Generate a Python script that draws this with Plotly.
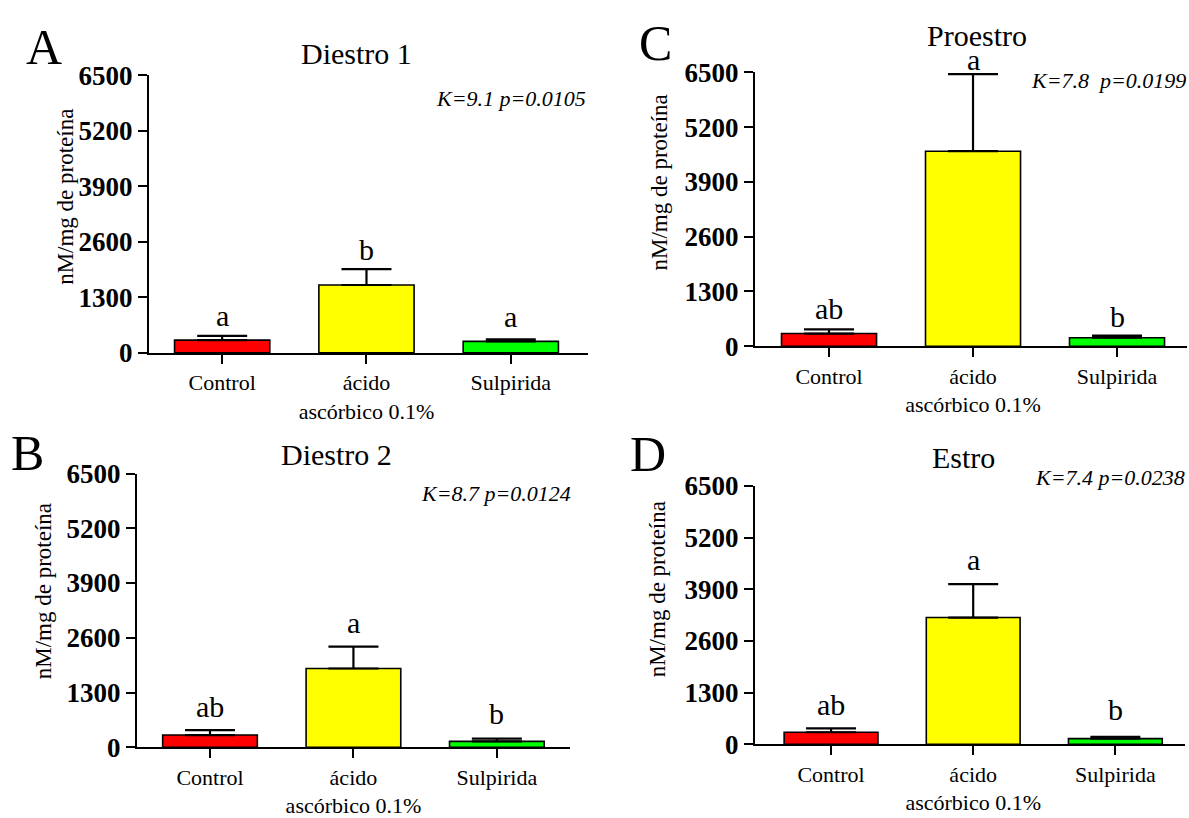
import plotly.graph_objects as go

W, H = 1189, 818
FONT = "Liberation Serif"

categories = ["Control", "ácido<br>ascórbico 0.1%", "Sulpirida"]
bar_colors = ["#FF0000", "#FFFF00", "#00FF00"]
y_ticks = [0, 1300, 2600, 3900, 5200, 6500]

panel_letters = ["A", "B", "C", "D"]
titles = ["Diestro 1", "Diestro 2", "Proestro", "Estro"]
stats_text = ["K=9.1 p=0.0105", "K=8.7 p=0.0124", "K=7.8  p=0.0199", "K=7.4 p=0.0238"]

means_A = [300, 1590, 270]
err_A = [100, 370, 50]
means_B = [290, 1870, 140]
err_B = [115, 520, 65]
means_C = [300, 4630, 200]
err_C = [100, 1830, 50]
means_D = [305, 3190, 145]
err_D = [100, 840, 45]

sig_A = ["a", "b", "a"]
sig_B = ["ab", "a", "b"]
sig_C = ["ab", "a", "b"]
sig_D = ["ab", "a", "b"]

means = [means_A, means_B, means_C, means_D]
errs = [err_A, err_B, err_C, err_D]
sigs = [sig_A, sig_B, sig_C, sig_D]

# layout geometry in pixels: (axis_x, right, top, bottom)
geom = [
    (149, 588, 63, 353),
    (137, 570, 479, 765),
    (755, 1187, 60, 346),
    (755, 1185, 492, 762),
]
xranges = [[-0.507, 2.535], [-0.509, 2.51], [-0.514, 2.486], [-0.535, 2.49]]
letter_pos = [(44, 33), (27, 458), (655, 29), (648, 459)]
title_pos = [(356, 40), (336, 459), (977, 21), (964, 462)]
stats_pos = [(588, 87), (573, 500), (1188, 68), (1187, 483)]
ytitle_pos = [(66, 190), (43, 602), (660, 175), (657, 600)]
# pixel lift of each significance letter above its error-bar cap
sig_shift = [[2, 1, 4], [5, 6, 7], [2, -4, 1], [5, 6, 9]]


def px(x):
    return x / W


def py(y):
    return 1 - y / H


fig = go.Figure()
annotations = []
xs = [0, 1, 2]

for i in range(4):
    ax = "" if i == 0 else str(i + 1)
    fig.add_trace(go.Bar(
        x=xs, y=means[i],
        width=0.66,
        marker=dict(color=bar_colors, line=dict(color="black", width=1.6)),
        error_y=dict(type="data", array=errs[i], arrayminus=[0, 0, 0],
                     symmetric=False, color="black", thickness=2.2, width=25),
        xaxis="x" + ax, yaxis="y" + ax, showlegend=False, hoverinfo="skip",
    ))
    ax0, ax1, top, bot = geom[i]
    xa = dict(
        domain=[px(ax0), px(ax1)], range=xranges[i], anchor="y" + ax,
        tickvals=xs, ticktext=categories, showline=True, linecolor="black",
        linewidth=2, ticks="outside", ticklen=9, tickwidth=2, tickcolor="black",
        showgrid=False, zeroline=False,
        tickfont=dict(family=FONT, size=22, color="black"),
    )
    ya = dict(
        domain=[py(bot), py(top)], range=[0, 6500], anchor="x" + ax,
        tickvals=y_ticks, ticktext=["<b>%d</b>" % v for v in y_ticks],
        showline=True, linecolor="black", linewidth=2, ticks="outside",
        ticklen=9, tickwidth=2, tickcolor="black", showgrid=False,
        zeroline=False, tickfont=dict(family=FONT, size=27, color="black"),
    )
    fig.update_layout(**{"xaxis" + ax: xa, "yaxis" + ax: ya})

    lx, ly = letter_pos[i]
    annotations.append(dict(x=px(lx), y=py(ly), xref="paper", yref="paper",
                            text=panel_letters[i], showarrow=False,
                            xanchor="center", yanchor="middle",
                            font=dict(family=FONT, size=50, color="black")))
    tx, ty = title_pos[i]
    annotations.append(dict(x=px(tx), y=py(ty), xref="paper", yref="paper",
                            text=titles[i], showarrow=False,
                            xanchor="center", yanchor="middle",
                            font=dict(family=FONT, size=30, color="black")))
    sx, sy = stats_pos[i]
    annotations.append(dict(x=px(sx), y=py(sy), xref="paper", yref="paper",
                            text="<i>" + stats_text[i] + "</i>", showarrow=False,
                            xanchor="right", yanchor="middle",
                            font=dict(family=FONT, size=22, color="black")))
    yx, yy = ytitle_pos[i]
    annotations.append(dict(x=px(yx), y=py(yy), xref="paper", yref="paper",
                            text="nM/mg de proteína", showarrow=False,
                            textangle=-90, xanchor="center", yanchor="middle",
                            font=dict(family=FONT, size=23, color="black")))
    for j in range(3):
        annotations.append(dict(x=xs[j], y=means[i][j] + errs[i][j],
                                xref="x" + ax, yref="y" + ax,
                                text=sigs[i][j], showarrow=False,
                                xanchor="center", yanchor="bottom",
                                yshift=sig_shift[i][j],
                                font=dict(family=FONT, size=30, color="black")))

fig.update_layout(
    width=W, height=H,
    margin=dict(l=0, r=0, t=0, b=0, pad=0),
    paper_bgcolor="white", plot_bgcolor="white",
    annotations=annotations,
    bargap=0.34,
)

fig.write_html(
    "out.html",
    config={"displayModeBar": False},
    post_script="document.body.style.margin='0';document.body.style.overflow='hidden';",
)
